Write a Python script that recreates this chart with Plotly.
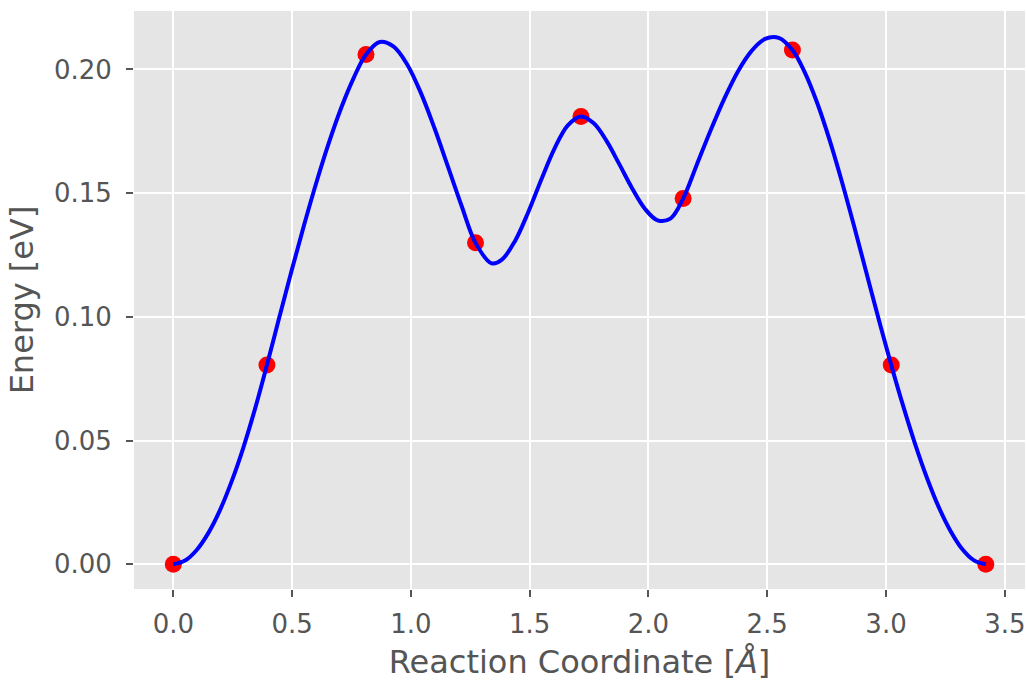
import plotly.graph_objects as go

# NEB images: reaction coordinate [Å] and energy [eV]
image_x = [0.000, 0.394, 0.811, 1.272, 1.716, 2.146, 2.606, 3.022, 3.420]
image_e = [0.000, 0.0805, 0.206, 0.1299, 0.181, 0.1478, 0.2078, 0.0805, 0.000]

# fitted energy curve
fit_x = [0.000, 0.0493, 0.0985, 0.1478, 0.197, 0.2463, 0.2955, 0.3448,
         0.394, 0.4461, 0.4983, 0.5504, 0.6025, 0.6546, 0.7068, 0.7589,
         0.811, 0.8686, 0.9263, 0.9839, 1.0415, 1.0991, 1.1568, 1.2144,
         1.272, 1.3400, 1.383, 1.4385, 1.494, 1.5495, 1.605, 1.6605,
         1.716, 1.7698, 1.8235, 1.8773, 1.931, 1.9848, 2.0385, 2.0923,
         2.146, 2.2035, 2.261, 2.3185, 2.376, 2.4335, 2.491, 2.5485,
         2.606, 2.658, 2.710, 2.762, 2.814, 2.866, 2.918, 2.970,
         3.022, 3.0718, 3.1215, 3.1713, 3.221, 3.2708, 3.3205, 3.3703, 3.420]
fit_e = [0.000, 0.0015, 0.0058, 0.0127, 0.0220, 0.0337, 0.0474, 0.0631,
         0.0805, 0.0998, 0.1188, 0.1371, 0.1544, 0.1703, 0.1845, 0.1965,
         0.206, 0.2111, 0.2093, 0.2021, 0.1906, 0.1763, 0.1605, 0.1446,
         0.1299, 0.1216, 0.1231, 0.1307, 0.1423, 0.1556, 0.1681, 0.1774,
         0.181, 0.1782, 0.1711, 0.1617, 0.1520, 0.1437, 0.1390, 0.1397,
         0.1478, 0.1615, 0.1752, 0.1880, 0.1991, 0.2074, 0.2123, 0.2127,
         0.2078, 0.1988, 0.1865, 0.1716, 0.1547, 0.1365, 0.1176, 0.0987,
         0.0805, 0.0641, 0.0489, 0.0352, 0.0233, 0.0136, 0.0062, 0.0016, 0.000]

x_ticks = [0.0, 0.5, 1.0, 1.5, 2.0, 2.5, 3.0, 3.5]
y_ticks = [0.00, 0.05, 0.10, 0.15, 0.20]

fig = go.Figure()
fig.add_trace(go.Scatter(x=image_x, y=image_e, mode="markers",
                         marker=dict(color="#FF0000", size=17, line=dict(width=0)),
                         showlegend=False, hoverinfo="skip"))
fig.add_trace(go.Scatter(x=fit_x, y=fit_e, mode="lines",
                         line=dict(color="#0000FF", width=4, shape="spline", smoothing=1.0),
                         showlegend=False))

font = dict(family="DejaVu Sans", color="#555555")
fig.update_layout(
    width=1026, height=681,
    margin=dict(l=134, r=1, t=11, b=92),
    paper_bgcolor="white", plot_bgcolor="#E5E5E5",
    font=dict(family="DejaVu Sans", color="#555555", size=26),
    xaxis=dict(range=[-0.1655, 3.585], tickvals=x_ticks,
               ticktext=[f"{v:.1f}" for v in x_ticks],
               showgrid=True, gridcolor="white", gridwidth=1.6, zeroline=False,
               ticks="outside", ticklen=7, tickwidth=1.5, tickcolor="#555555",
               ticklabelstandoff=5,
               tickfont=dict(size=26, **font),
               title=dict(text="Reaction Coordinate [<i>Å</i>]", font=dict(size=32, **font), standoff=14),
               showline=False),
    yaxis=dict(range=[-0.00998, 0.2236], tickvals=y_ticks,
               ticktext=[f"{v:.2f}" for v in y_ticks],
               showgrid=True, gridcolor="white", gridwidth=1.6, zeroline=False,
               ticks="outside", ticklen=7, tickwidth=1.5, tickcolor="#555555",
               ticklabelstandoff=9,
               tickfont=dict(size=26, **font),
               title=dict(text="Energy [eV]", font=dict(size=32, **font), standoff=10),
               showline=False),
)
fig.write_html("out.html")
